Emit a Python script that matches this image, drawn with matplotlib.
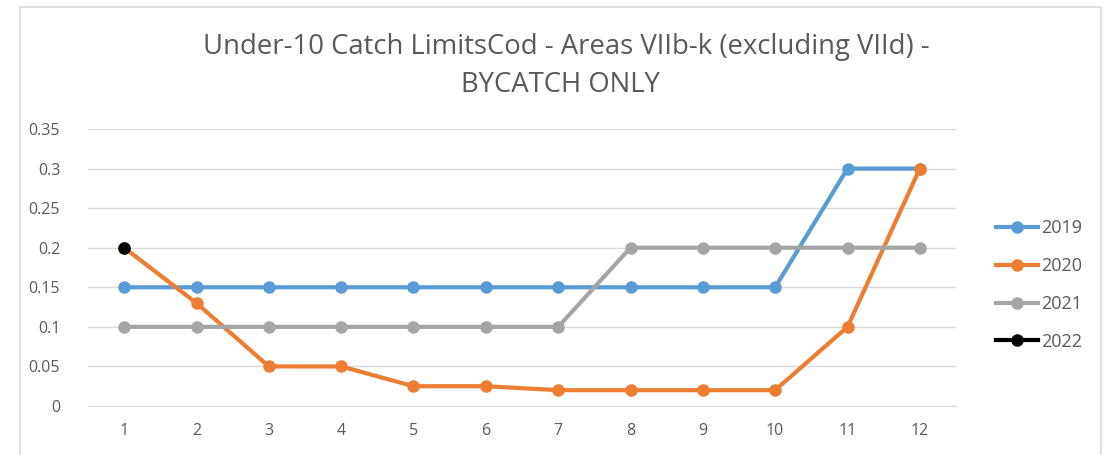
import matplotlib.pyplot as plt
from matplotlib.patches import Rectangle

months = list(range(1, 13))
y2019 = [0.15, 0.15, 0.15, 0.15, 0.15, 0.15, 0.15, 0.15, 0.15, 0.15, 0.3, 0.3]
y2020 = [0.2, 0.13, 0.05, 0.05, 0.025, 0.025, 0.02, 0.02, 0.02, 0.02, 0.1, 0.3]
y2021 = [0.1, 0.1, 0.1, 0.1, 0.1, 0.1, 0.1, 0.2, 0.2, 0.2, 0.2, 0.2]
months2022 = [1]
y2022 = [0.2]
yticks = [0, 0.05, 0.1, 0.15, 0.2, 0.25, 0.3, 0.35]
ytick_labels = ["0", "0.05", "0.1", "0.15", "0.2", "0.25", "0.3", "0.35"]

plt.rcParams['font.family'] = ['Open Sans', 'DejaVu Sans']
text_col = '#595959'

fig = plt.figure(figsize=(11.12, 4.55), dpi=100)
ax = fig.add_axes([88 / 1112, 1 - 406 / 455, (956 - 88) / 1112, (406 - 129) / 455])

# chart frame
fig.patches.append(Rectangle((20 / 1112, -0.05), (1101 - 20) / 1112, 1.05 - 7 / 455,
                             transform=fig.transFigure, fill=False,
                             edgecolor='#d9d9d9', linewidth=1.2))

series = [
    (months, y2019, '#5B9BD5', '2019'),
    (months, y2020, '#ED7D31', '2020'),
    (months, y2021, '#A5A5A5', '2021'),
    (months2022, y2022, 'black', '2022'),
]
for xs, ys, col, lab in series:
    ax.plot(xs, ys, '-o', color=col, lw=3, ms=8, label=lab)

ax.set_xlim(0.5, 12.5)
ax.set_ylim(0, 0.35)
ax.set_xticks(months)
ax.set_yticks(yticks)
ax.set_yticklabels(ytick_labels)
ax.grid(axis='y', color='#d9d9d9', lw=1)
ax.set_axisbelow(True)
for s in ['top', 'right', 'left']:
    ax.spines[s].set_visible(False)
ax.spines['bottom'].set_color('#d9d9d9')
ax.tick_params(length=0, colors=text_col, labelsize=11.5)
ax.tick_params(axis='y', pad=20)
ax.tick_params(axis='x', pad=12)

fig.text(566 / 1112, 1 - 47 / 455, "Under-10 Catch LimitsCod - Areas VIIb-k (excluding VIId) -",
         ha='center', va='center', fontsize=19.8, color=text_col)
fig.text(560 / 1112, 1 - 85 / 455, "BYCATCH ONLY",
         ha='center', va='center', fontsize=19.8, color=text_col)

leg = fig.legend(loc='center left', bbox_to_anchor=(980 / 1112, 1 - 285 / 455),
                 frameon=False, fontsize=13, labelcolor=text_col,
                 handlelength=2.3, labelspacing=1.1, handletextpad=0.2)

fig.savefig('out.png', dpi=100)
